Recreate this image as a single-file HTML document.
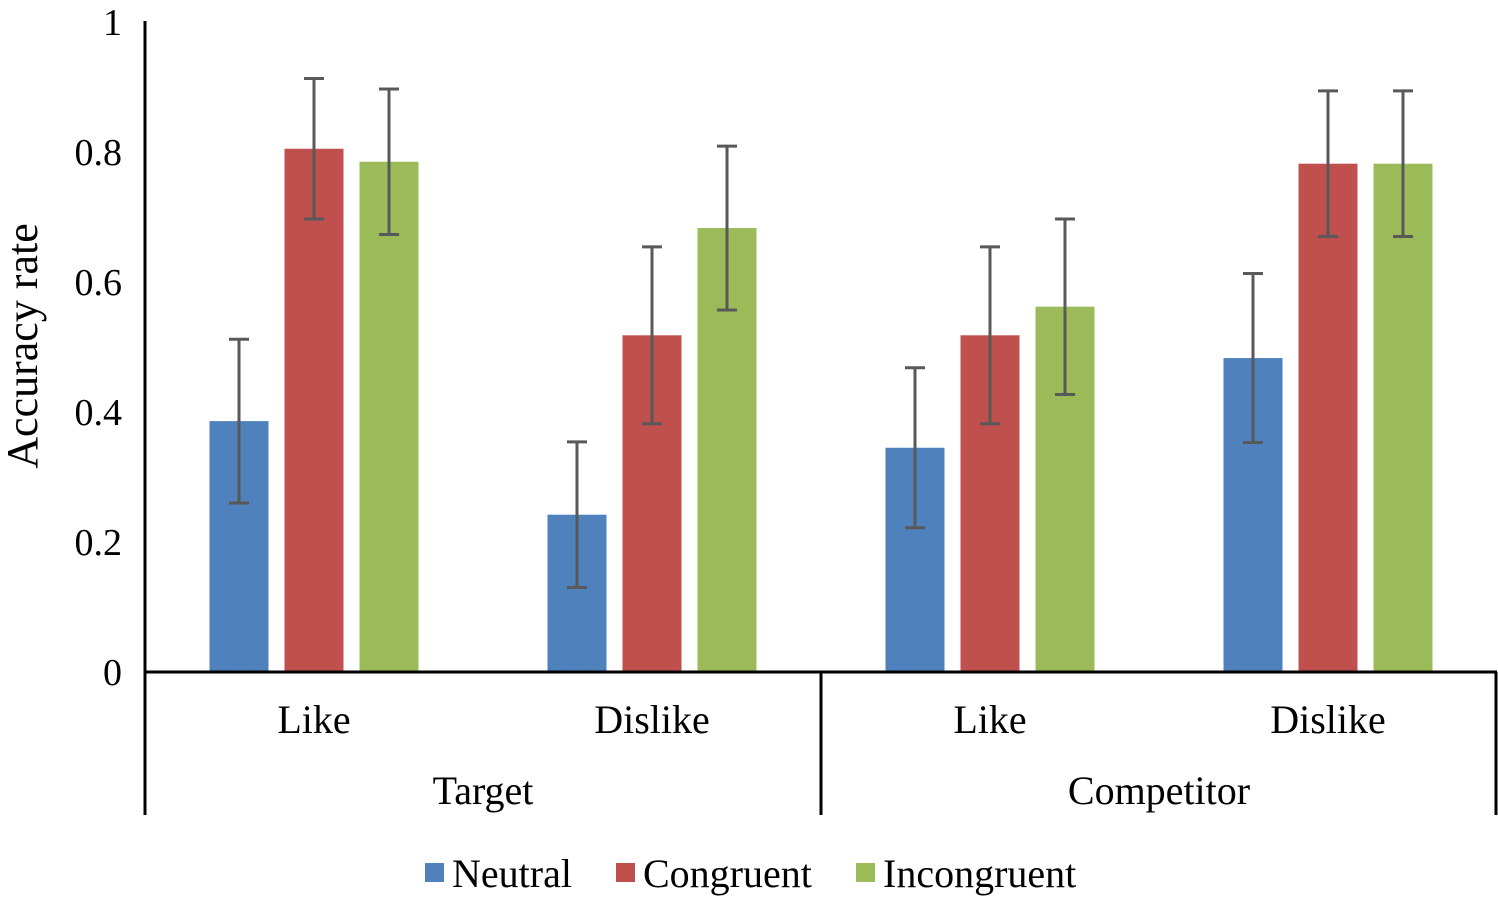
<!DOCTYPE html>
<html><head><meta charset="utf-8"><style>
html,body{margin:0;padding:0;background:#fff;}
svg text{font-family:"Liberation Serif",serif;fill:#000;}
</style></head><body>
<svg width="1498" height="899" viewBox="0 0 1498 899" xmlns="http://www.w3.org/2000/svg">
<g id="bars"></g>
<g id="errs"></g>
<g id="axes"></g>
<text x="37" y="346" font-size="44" text-anchor="middle" transform="rotate(-90 37 346)">Accuracy rate</text>
<g>
<g><rect x="425" y="863" width="19" height="19" fill="#4F81BD"/><text x="452" y="887" font-size="40">Neutral</text></g>
<g><rect x="616" y="863" width="19" height="19" fill="#C0504D"/><text x="643" y="887" font-size="40">Congruent</text></g>
<g><rect x="856" y="863" width="19" height="19" fill="#9BBB59"/><text x="883" y="887" font-size="40">Incongruent</text></g>
</g>
</svg>
<script>
const categories = ["Like","Dislike","Like","Dislike"];
const groups = ["Target","Competitor"];
const seriesNames = ["Neutral","Congruent","Incongruent"];
const neutral = [0.386,0.242,0.345,0.483];
const congruent = [0.805,0.518,0.518,0.782];
const incongruent = [0.785,0.683,0.562,0.782];
const neutralErr = [0.126,0.112,0.123,0.130];
const congruentErr = [0.108,0.136,0.136,0.112];
const incongruentErr = [0.112,0.126,0.135,0.112];
const yTicks = [0,0.2,0.4,0.6,0.8,1];
const yTickLabels = ["0","0.2","0.4","0.6","0.8","1"];

const NS="http://www.w3.org/2000/svg";
const x0=145,x1=1497,y0=672,yTop=22;
const y=v=>y0-(y0-yTop)*v;
const gw=(x1-x0)/categories.length;
const gc=i=>x0+gw*(i+0.5);
const colors=["#4F81BD","#C0504D","#9BBB59"];
const series=[neutral,congruent,incongruent];
const errs=[neutralErr,congruentErr,incongruentErr];
const bw=59,step=75;
function mk(tag,attrs,parent){const e=document.createElementNS(NS,tag);for(const k in attrs)e.setAttribute(k,attrs[k]);parent.appendChild(e);return e;}
const bars=document.getElementById('bars'),eg=document.getElementById('errs'),ax=document.getElementById('axes');
series.forEach((s,si)=>{s.forEach((v,i)=>{
 const cx=gc(i)+(si-1)*step;
 const r=mk('rect',{x:cx-bw/2,y:y(v),width:bw,height:y0-y(v),fill:colors[si]},bars);
 
 
 const e=errs[si][i];
 const g=mk('g',{stroke:'#595959','stroke-width':3},eg);
 
 
 mk('line',{x1:cx,x2:cx,y1:y(v+e),y2:y(v-e)},g);
 mk('line',{x1:cx-10,x2:cx+10,y1:y(v+e),y2:y(v+e)},g);
 mk('line',{x1:cx-10,x2:cx+10,y1:y(v-e),y2:y(v-e)},g);
});});
const ya=mk('line',{x1:x0,x2:x0,y1:yTop-1,y2:815,stroke:'#000','stroke-width':3},ax);


const xa=mk('line',{x1:x0,x2:x1,y1:y0,y2:y0,stroke:'#000','stroke-width':3},ax);


[x0+gw*2,x1-1].forEach((xx,k)=>{const l=mk('line',{x1:xx,x2:xx,y1:y0,y2:815,stroke:'#000','stroke-width':3},ax);
 
 });
yTicks.forEach((t,i)=>{const tx=mk('text',{x:122,y:y(t)+13,'font-size':38,'text-anchor':'end'},ax);tx.textContent=yTickLabels[i];
 
 });
categories.forEach((c,i)=>{const tx=mk('text',{x:gc(i),y:733,'font-size':40,'text-anchor':'middle'},ax);tx.textContent=c;
 
 });
groups.forEach((g,i)=>{const tx=mk('text',{x:x0+gw*(2*i+1),y:804,'font-size':40,'text-anchor':'middle'},ax);tx.textContent=g;
 
 });
</script>
</body></html>
